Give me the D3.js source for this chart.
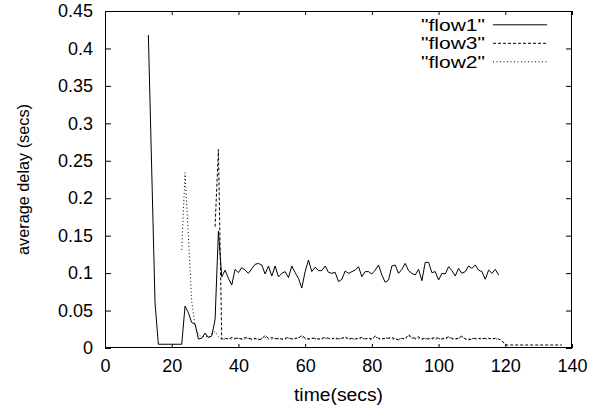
<!DOCTYPE html>
<html>
<head>
<meta charset="utf-8">
<script src="https://cdn.jsdelivr.net/npm/d3@7"></script>
<style>
  body { margin: 0; background: #fff; }
  svg { display: block; font-family: "Liberation Sans", Arial, sans-serif; }
</style>
</head>
<body>
<svg id="chart" width="610" height="414"></svg>
<script>
// ---------------- data ----------------
const xTicks = [0, 20, 40, 60, 80, 100, 120, 140];
const yTicks = [0, 0.05, 0.1, 0.15, 0.2, 0.25, 0.3, 0.35, 0.4, 0.45];
const yTickLabels = ["0", "0.05", "0.1", "0.15", "0.2", "0.25", "0.3", "0.35", "0.4", "0.45"];
const seriesNames = ["\"flow1\"", "\"flow3\"", "\"flow2\""];

const flow1Time = [13, 15, 16, 17, 18, 19, 20, 21, 22, 23, 24, 25, 26, 27, 28, 29, 30, 31, 32, 33, 34,
  35, 36, 37, 38, 39, 40, 41, 42, 43, 44, 45, 46, 47, 48, 49, 50, 51, 52, 53, 54, 55,
  56, 57, 58, 59, 60, 61, 62, 63, 64, 65, 66, 67, 68, 69, 70, 71, 72, 73, 74, 75, 76, 77,
  78, 79, 80, 81, 82, 83, 84, 85, 86, 87, 88, 89, 90, 91, 92, 93, 94, 95, 96, 97, 98, 99,
  100, 101, 102, 103, 104, 105, 106, 107, 108, 109, 110, 111, 112, 113, 114, 115, 116, 117, 118];
const flow1Delay = [0.418, 0.060, 0.005, 0.005, 0.005, 0.005, 0.005, 0.005, 0.005, 0.005, 0.056, 0.047, 0.034, 0.032, 0.012, 0.013, 0.020, 0.014, 0.016, 0.038, 0.156,
  0.095, 0.104, 0.093, 0.084, 0.105, 0.1006, 0.1073, 0.104, 0.0997, 0.106, 0.1117, 0.113, 0.1108, 0.0988, 0.1095, 0.096, 0.1095, 0.095, 0.0997, 0.102, 0.094,
  0.1095, 0.1006, 0.093, 0.080, 0.102, 0.1175, 0.102, 0.108, 0.1033, 0.1033, 0.1095, 0.101, 0.0997, 0.101, 0.0886, 0.0917, 0.1028, 0.0997, 0.102, 0.104, 0.1086, 0.0953,
  0.102, 0.102, 0.0988, 0.104, 0.1108, 0.0975, 0.0877, 0.0908, 0.1095, 0.1108, 0.0997, 0.105, 0.113, 0.1033, 0.0997, 0.0975, 0.105, 0.0899, 0.1144, 0.1144, 0.1006, 0.102,
  0.0908, 0.0997, 0.0988, 0.1086, 0.1033, 0.0962, 0.1064, 0.0997, 0.102, 0.1095, 0.1064, 0.1108, 0.104, 0.102, 0.0917, 0.104, 0.0997, 0.105, 0.0975];

const flow3Time = [33, 34, 35, 36, 37, 38, 39, 40, 41, 42, 43, 44, 45, 46, 47, 48, 49, 50, 51, 52, 53, 54, 55,
  56, 57, 58, 59, 60, 61, 62, 63, 64, 65, 66, 67, 68, 69, 70, 71, 72, 73, 74, 75, 76, 77,
  78, 79, 80, 81, 82, 83, 84, 85, 86, 87, 88, 89, 90, 91, 92, 93, 94, 95, 96, 97, 98, 99,
  100, 101, 102, 103, 104, 105, 106, 107, 108, 109, 110, 111, 112, 113, 114, 115, 116, 117, 118, 119,
  120, 121, 122, 123, 124, 125, 126, 127, 128, 129, 130, 131, 132, 133, 134, 135, 136, 137];
const flow3Delay = [0.162, 0.265, 0.012, 0.013, 0.012, 0.014, 0.013, 0.013, 0.012, 0.014, 0.013, 0.012, 0.013, 0.011, 0.012, 0.017, 0.013, 0.014, 0.012, 0.013, 0.012, 0.013, 0.014,
  0.012, 0.013, 0.013, 0.017, 0.013, 0.012, 0.013, 0.013, 0.012, 0.013, 0.014, 0.013, 0.012, 0.014, 0.012, 0.013, 0.015, 0.012, 0.013, 0.012, 0.013, 0.014,
  0.012, 0.013, 0.012, 0.016, 0.013, 0.012, 0.013, 0.013, 0.014, 0.012, 0.011, 0.013, 0.012, 0.018, 0.014, 0.013, 0.015, 0.012, 0.013, 0.012, 0.013, 0.014,
  0.013, 0.012, 0.013, 0.015, 0.013, 0.012, 0.013, 0.016, 0.012, 0.011, 0.012, 0.013, 0.013, 0.012, 0.013, 0.013, 0.012, 0.013, 0.012, 0.010,
  0.004, 0.004, 0.004, 0.004, 0.004, 0.004, 0.004, 0.004, 0.004, 0.004, 0.004, 0.004, 0.004, 0.004, 0.004, 0.004, 0.004, 0.004];

const flow2Time = [23, 24, 25, 26, 27, 28, 29, 30, 31, 32, 33, 34, 35, 36, 37, 38, 39, 40, 41, 42, 43, 44, 45, 46, 47, 48, 49, 50, 51, 52, 53, 54, 55,
  56, 57, 58, 59, 60, 61, 62, 63, 64, 65, 66, 67, 68, 69, 70, 71, 72, 73, 74, 75, 76, 77,
  78, 79, 80, 81, 82, 83, 84, 85, 86, 87, 88, 89, 90, 91, 92, 93, 94, 95, 96, 97, 98, 99,
  100, 101, 102, 103, 104, 105, 106, 107, 108, 109, 110, 111, 112, 113, 114, 115, 116, 117, 118];
const flow2Delay = [0.131, 0.234, 0.148, 0.062, 0.030, 0.018, 0.015, 0.016, 0.014, 0.020, 0.022, 0.015, 0.011, 0.012, 0.013, 0.012, 0.012, 0.013, 0.012, 0.012, 0.013, 0.011, 0.012, 0.012, 0.013, 0.014, 0.012, 0.012, 0.013, 0.012, 0.011, 0.012, 0.013,
  0.012, 0.012, 0.014, 0.015, 0.012, 0.012, 0.013, 0.012, 0.012, 0.012, 0.013, 0.012, 0.013, 0.012, 0.012, 0.013, 0.014, 0.012, 0.012, 0.012, 0.013, 0.012,
  0.013, 0.012, 0.012, 0.015, 0.012, 0.012, 0.013, 0.014, 0.012, 0.012, 0.012, 0.013, 0.012, 0.016, 0.013, 0.012, 0.013, 0.012, 0.012, 0.013, 0.012, 0.012,
  0.012, 0.013, 0.012, 0.014, 0.012, 0.012, 0.013, 0.015, 0.012, 0.012, 0.013, 0.012, 0.012, 0.013, 0.012, 0.012, 0.013, 0.012, 0.012];

// ---------------- layout ----------------
const svg = d3.select("#chart");
const L = 105, R = 572, T = 11, B = 348;
const FS = 18;

const x = d3.scaleLinear().domain([0, 140]).range([L, R]);
const y = d3.scaleLinear().domain([0, 0.45]).range([B, T]);

// axes (labels on left/bottom, mirrored ticks on top/right, all inward)
const xAxis = d3.axisBottom(x).tickValues(xTicks).tickSize(-4).tickPadding(11).tickFormat(d3.format("d"));
const xAxisTop = d3.axisTop(x).tickValues(xTicks).tickSize(-4).tickFormat("");
const yAxis = d3.axisLeft(y).tickValues(yTicks).tickSize(-6).tickPadding(12)
  .tickFormat((d, i) => yTickLabels[i]);
const yAxisRight = d3.axisRight(y).tickValues(yTicks).tickSize(-6).tickFormat("");

function styleAxis(g) {
  g.select(".domain").remove();
  g.selectAll(".tick line").attr("stroke", "#000").attr("stroke-width", 1);
  g.selectAll(".tick text").attr("fill", "#000").attr("font-size", FS)
    .attr("font-family", "'Liberation Sans', Arial, sans-serif");
}

svg.append("g").attr("transform", `translate(0,${B})`).call(xAxis).call(styleAxis);
svg.append("g").attr("transform", `translate(0,${T})`).call(xAxisTop).call(styleAxis);
svg.append("g").attr("transform", `translate(${L},0)`).call(yAxis).call(styleAxis);
svg.append("g").attr("transform", `translate(${R},0)`).call(yAxisRight).call(styleAxis);

// border
svg.append("rect").attr("x", L + 0.5).attr("y", T + 0.5)
  .attr("width", R - L - 1).attr("height", B - T - 1)
  .attr("fill", "none").attr("stroke", "#000").attr("stroke-width", 1);

// axis titles
svg.append("text").attr("x", (L + R) / 2).attr("y", 401)
  .attr("text-anchor", "middle").attr("font-size", FS)
  .attr("textLength", 89).attr("lengthAdjust", "spacingAndGlyphs").text("time(secs)");
svg.append("text")
  .attr("transform", `translate(29,${(T + B) / 2}) rotate(-90)`)
  .attr("text-anchor", "middle").attr("font-size", 17)
  .attr("textLength", 151).attr("lengthAdjust", "spacingAndGlyphs").text("average delay (secs)");

// series
const series = [
  { name: seriesNames[0], t: flow1Time, v: flow1Delay, dash: null },
  { name: seriesNames[1], t: flow3Time, v: flow3Delay, dash: "3,2" },
  { name: seriesNames[2], t: flow2Time, v: flow2Delay, dash: "1,2.5" }
];

const line = d3.line().x(d => x(d[0])).y(d => y(d[1]));

const plot = svg.append("g");
series.forEach(s => {
  const pts = s.t.map((t, i) => [t, s.v[i]]);
  plot.append("path").datum(pts).attr("d", line)
    .attr("fill", "none").attr("stroke", "#000").attr("stroke-width", 1)
    .attr("stroke-dasharray", s.dash);
});

// legend
const legendRows = [24.8, 43.3, 61.8];
series.forEach((s, i) => {
  const ly = legendRows[i];
  svg.append("text").attr("x", 485).attr("y", ly + 6)
    .attr("text-anchor", "end").attr("font-size", 16)
    .attr("textLength", 64).attr("lengthAdjust", "spacingAndGlyphs").text(s.name);
  svg.append("line").attr("x1", 493).attr("x2", 547).attr("y1", ly).attr("y2", ly)
    .attr("stroke", "#000").attr("stroke-width", 1).attr("stroke-dasharray", s.dash);
});
</script>
</body>
</html>
